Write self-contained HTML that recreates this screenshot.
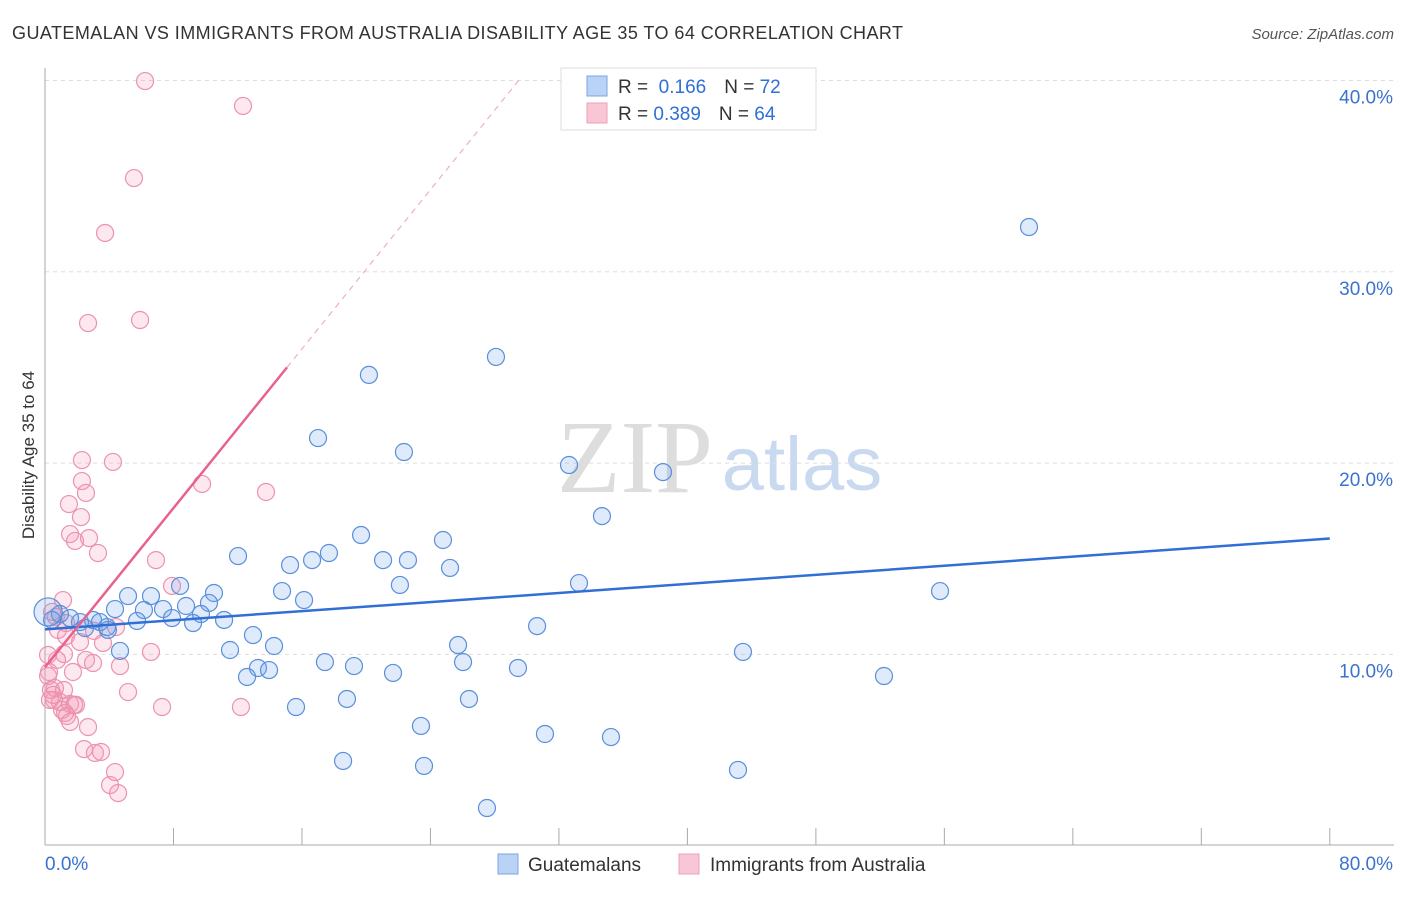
<!DOCTYPE html>
<html><head><meta charset="utf-8">
<style>
body{margin:0;background:#fff;font-family:"Liberation Sans",sans-serif;}
svg text{font-family:"Liberation Sans",sans-serif;}
</style></head>
<body>
<svg id="chart" width="1406" height="892" xmlns="http://www.w3.org/2000/svg">
<text x="12" y="39" font-size="18" fill="#333" textLength="891" lengthAdjust="spacing">GUATEMALAN VS IMMIGRANTS FROM AUSTRALIA DISABILITY AGE 35 TO 64 CORRELATION CHART</text>
<text x="1394" y="39" font-size="15" fill="#555" text-anchor="end" font-style="italic">Source: ZipAtlas.com</text>
<text x="34" y="455" font-size="17" fill="#333" text-anchor="middle" transform="rotate(-90 34 455)">Disability Age 35 to 64</text>
<g>
<text x="635" y="492" font-size="104" fill="#ddd" text-anchor="middle" style="font-family:'Liberation Serif',serif">ZIP</text>
<text x="802" y="490" font-size="76" fill="#c9d9ef" text-anchor="middle">atlas</text>
</g>
<g id="grid"></g>
<g id="axes"></g>
<g id="pts"></g>
<g id="lines"></g>
<g>
<rect x="561" y="68" width="255" height="62" fill="#fff" stroke="#ddd"/>
<rect x="587" y="76" width="20" height="20" fill="#b8d3f5" stroke="#7aa6e0"/>
<rect x="587" y="103" width="20" height="20" fill="#f9c6d5" stroke="#eda0b8"/>
<text x="618" y="93" font-size="19" fill="#333">R = <tspan fill="#2f6fd6">&#160;0.166</tspan><tspan dx="18">N = </tspan><tspan fill="#2f6fd6">72</tspan></text>
<text x="618" y="120" font-size="19" fill="#333">R = <tspan fill="#2f6fd6">0.389</tspan><tspan dx="18">N = </tspan><tspan fill="#2f6fd6">64</tspan></text>
</g>
<g>
<rect x="498" y="854" width="20" height="20" fill="#b8d3f5" stroke="#7aa6e0"/>
<text x="528" y="871" font-size="19" fill="#333">Guatemalans</text>
<rect x="679" y="854" width="20" height="20" fill="#f9c6d5" stroke="#eda0b8"/>
<text x="710" y="871" font-size="19" fill="#333">Immigrants from Australia</text>
</g>
</svg>
<script>
const blueX=[61.27,28.08,20.17,17.0,22.35,32.63,38.48,34.68,19.68,24.78,12.02,17.68,16.63,21.05,22.6,15.26,25.22,33.25,22.1,8.41,10.52,6.6,5.17,14.76,55.73,16.13,10.21,8.78,6.16,7.35,4.36,9.71,7.91,5.73,9.22,11.15,30.64,3.86,12.95,2.99,0.93,0.44,2.18,3.42,14.26,25.72,11.52,4.67,43.46,17.43,26.03,19.24,29.45,13.26,13.95,21.67,12.58,52.24,18.8,26.4,15.63,23.41,31.13,35.24,18.56,23.6,43.15,27.52,0.19,1.56,2.49,3.92];
const blueY=[32.34,25.55,24.61,21.31,20.58,19.9,19.53,17.23,16.24,15.98,15.14,15.3,14.93,14.93,14.93,14.67,14.52,13.73,13.63,13.58,13.21,13.05,13.05,13.31,13.31,12.84,12.69,12.53,12.32,12.37,12.37,12.11,11.9,11.75,11.64,11.8,11.48,11.43,11.01,11.8,12.11,11.8,11.69,11.69,10.44,10.49,10.23,10.18,10.13,9.6,9.6,9.39,9.29,9.29,9.18,9.03,8.82,8.87,7.67,7.67,7.25,6.26,5.84,5.68,4.43,4.17,3.96,1.97,12.22,11.9,11.38,11.28];
const pinkX=[6.23,12.33,5.54,3.74,2.68,5.92,2.3,4.23,2.3,2.55,9.78,13.76,1.49,2.24,1.56,1.87,2.74,3.3,6.91,7.91,1.12,4.42,0.81,1.31,2.18,3.61,6.6,1.18,2.55,2.99,4.67,0.75,1.74,0.19,0.37,0.62,1.18,5.17,7.29,12.2,0.56,0.93,1.56,1.81,1.93,1.25,1.37,1.56,2.68,2.43,3.11,3.49,4.36,4.05,4.55,0.19,0.31,0.44,0.68,1.31,3.05,0.25,0.5,1.06];
const pinkY=[39.97,38.67,34.9,32.03,27.32,27.48,20.16,20.06,19.06,18.44,18.91,18.49,17.86,17.18,16.29,15.93,16.08,15.3,14.93,13.58,12.84,11.43,11.28,10.96,10.65,10.6,10.13,10.02,9.71,9.55,9.39,9.71,9.08,8.87,8.14,8.24,8.14,8.03,7.25,7.25,7.62,7.51,7.41,7.36,7.36,6.94,6.78,6.47,6.2,5.05,4.85,4.9,3.85,3.17,2.75,9.97,7.62,12.22,11.96,11.64,11.23,9.08,7.88,7.1];
const yTicks=[10,20,30,40];
const yTickLabels=["10.0%","20.0%","30.0%","40.0%"];
const xTickVals=[0,8,16,24,32,40,48,56,64,72,80];
const xEndLabels=["0.0%","80.0%"];
const blueTrend=[11.31,16.06];
const pinkTrend=[9.33,1.04];
const NS='http://www.w3.org/2000/svg';
const X=v=>45+v*16.06, Y=v=>845.7-v*19.13;
function mk(tag,attrs,parent){const e=document.createElementNS(NS,tag);for(const k in attrs)e.setAttribute(k,attrs[k]);parent.appendChild(e);return e;}
const grid=document.getElementById('grid'),axes=document.getElementById('axes'),pts=document.getElementById('pts'),lines=document.getElementById('lines');
yTicks.forEach((t,i)=>{
 const l=mk('line',{x1:45,x2:1394,y1:Y(t),y2:Y(t),stroke:'#ddd','stroke-dasharray':'4,4'},grid);
 
 
 const tx=mk('text',{x:1393,y:Y(t)+23,'font-size':19,fill:'#3a72d0','text-anchor':'end'},axes);
 tx.textContent=yTickLabels[i];
 
 
});
const ax=mk('line',{x1:45,x2:1394,y1:845,y2:845,stroke:'#aaa'},axes);


const ay=mk('line',{x1:45,x2:45,y1:68,y2:845,stroke:'#aaa'},axes);


xTickVals.forEach(t=>{
 const l=mk('line',{x1:X(t),x2:X(t),y1:828,y2:845,stroke:'#aaa'},axes);
 
 
});
const xl0=mk('text',{x:45,y:870,'font-size':19,fill:'#3a72d0'},axes);xl0.textContent=xEndLabels[0];


const xl1=mk('text',{x:1393,y:870,'font-size':19,fill:'#3a72d0','text-anchor':'end'},axes);xl1.textContent=xEndLabels[1];


pinkX.forEach((x,i)=>{
 const c=mk('circle',{cx:X(x),cy:Y(pinkY[i]),r:8.5,fill:'rgba(244,150,180,0.22)',stroke:'#eb93ae','stroke-width':1.2},pts);
 
 
});
blueX.forEach((x,i)=>{
 const c=mk('circle',{cx:X(x),cy:Y(blueY[i]),r:i==68?14:8.5,fill:'rgba(110,160,230,0.22)',stroke:'#5a8fdb','stroke-width':1.2},pts);
 
 
});
const bl=mk('line',{x1:X(0),y1:Y(blueTrend[0]),x2:X(80),y2:Y(blueTrend[1]),stroke:'#2f6fd6','stroke-width':2.5},lines);


const pl=mk('line',{x1:X(0),y1:Y(pinkTrend[0]),x2:X(15.07),y2:Y(pinkTrend[0]+pinkTrend[1]*15.07),stroke:'#e8628e','stroke-width':2.5},lines);


const xe=(40-pinkTrend[0])/pinkTrend[1];
const pd=mk('line',{x1:X(15.07),y1:Y(pinkTrend[0]+pinkTrend[1]*15.07),x2:X(xe),y2:Y(40),stroke:'#eeb0c4','stroke-width':1.2,'stroke-dasharray':'6,5'},lines);


</script>
</body></html>
